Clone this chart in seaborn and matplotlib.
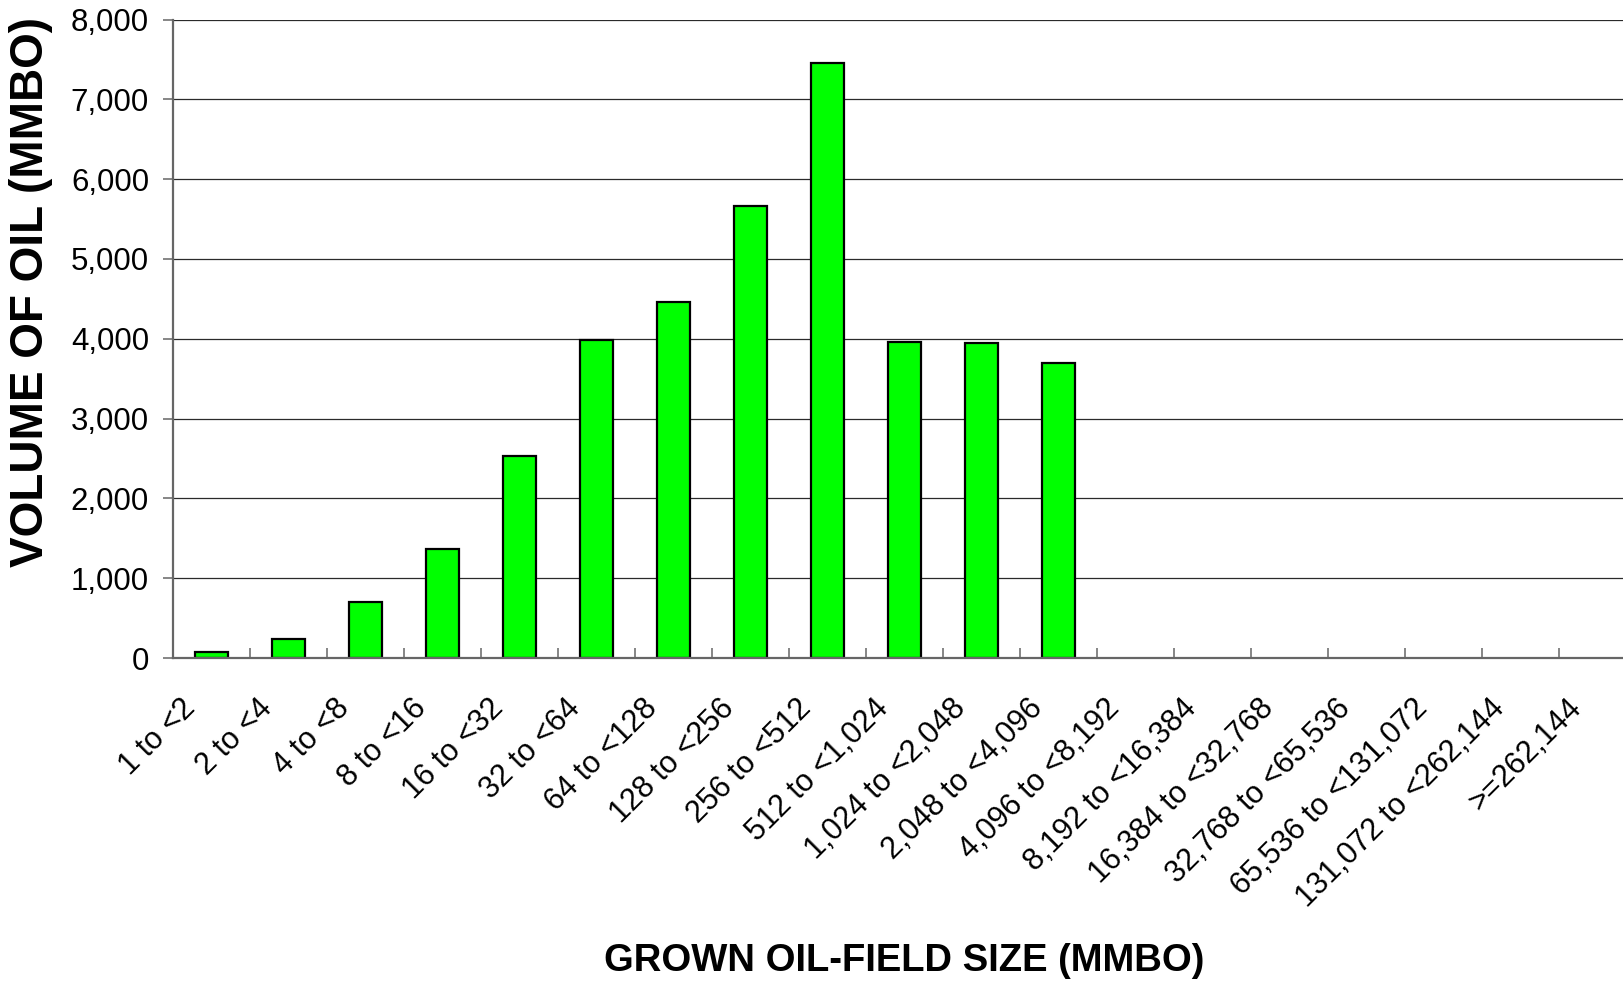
import matplotlib
matplotlib.use("Agg")
import matplotlib.pyplot as plt
import matplotlib.transforms as mtransforms
from matplotlib.ticker import FuncFormatter, FixedLocator
import numpy as np
import pandas as pd
import seaborn as sns

# field-size classes (MMBO) and volume of oil in each class
size_classes = [
    "1 to <2", "2 to <4", "4 to <8", "8 to <16", "16 to <32", "32 to <64",
    "64 to <128", "128 to <256", "256 to <512", "512 to <1,024",
    "1,024 to <2,048", "2,048 to <4,096", "4,096 to <8,192",
    "8,192 to <16,384", "16,384 to <32,768", "32,768 to <65,536",
    "65,536 to <131,072", "131,072 to <262,144", ">=262,144",
]
oil_volume = [79, 238, 706, 1366, 2535, 3985, 4461, 5664, 7460, 3964, 3943, 3700,
              np.nan, np.nan, np.nan, np.nan, np.nan, np.nan, np.nan]
y_ticks = [0, 1000, 2000, 3000, 4000, 5000, 6000, 7000, 8000]

df = pd.DataFrame({"size": size_classes, "volume": oil_volume})

sns.set_theme(style="white")
plt.rcParams["font.family"] = ["Liberation Sans", "DejaVu Sans"]
plt.rcParams["text.color"] = "black"
plt.rcParams["axes.labelcolor"] = "black"

fig = plt.figure(figsize=(16.24, 9.81), dpi=100)
ax = fig.add_axes([173 / 1624, (981 - 658) / 981, 1463 / 1624, 638.5 / 981])

sns.barplot(data=df, x="size", y="volume", order=size_classes, ax=ax,
            color="#00ff00", saturation=1, width=0.42,
            edgecolor="black", linewidth=1.6, zorder=3)

ax.set_xlim(-0.5, len(size_classes) - 0.5)
ax.set_ylim(0, 8000)
ax.set_yticks(y_ticks)
ax.yaxis.set_major_formatter(FuncFormatter(lambda v, p: f"{v:,.0f}"))
ax.yaxis.grid(True, color="#2a2a2a", linewidth=0.9, zorder=0)
ax.set_axisbelow(True)

# spines
for side in ["top", "right"]:
    ax.spines[side].set_visible(False)
for side in ["left", "bottom"]:
    ax.spines[side].set_color("#666666")
    ax.spines[side].set_linewidth(1.6)
    ax.spines[side].set_zorder(4)

ax.tick_params(axis="y", which="major", direction="out", length=7.2, width=1.1,
               color="#666666", pad=10.0, labelsize=22.5, labelcolor="black", left=True)

# x labels centred on categories, tick marks on the class boundaries
ax.tick_params(axis="x", which="major", length=0, pad=37, labelsize=22, labelcolor="black")
ax.xaxis.set_minor_locator(FixedLocator(np.arange(0.5, len(size_classes), 1.0)))
ax.tick_params(axis="x", which="minor", direction="in", length=7.2, width=1.1,
               color="#666666", bottom=True)

shift = mtransforms.ScaledTranslation(-15 / 100, 0, fig.dpi_scale_trans)
for lab in ax.get_xticklabels():
    lab.set_rotation(45)
    lab.set_rotation_mode("anchor")
    lab.set_ha("right")
    lab.set_va("baseline")
    lab.set_transform(lab.get_transform() + shift)

ax.set_ylabel("VOLUME OF OIL (MMBO)", fontsize=33, fontweight="bold", color="black")
ax.yaxis.set_label_coords((31 - 173) / 1463, (658 - 292) / 638.5)
ax.yaxis.label.set_va("center")

ax.set_xlabel("GROWN OIL-FIELD SIZE (MMBO)", fontsize=27.5, fontweight="bold", color="black")
ax.xaxis.set_label_coords(0.5, (658 - 971) / 638.5)
ax.xaxis.label.set_va("baseline")

fig.savefig("out.png", dpi=100)
